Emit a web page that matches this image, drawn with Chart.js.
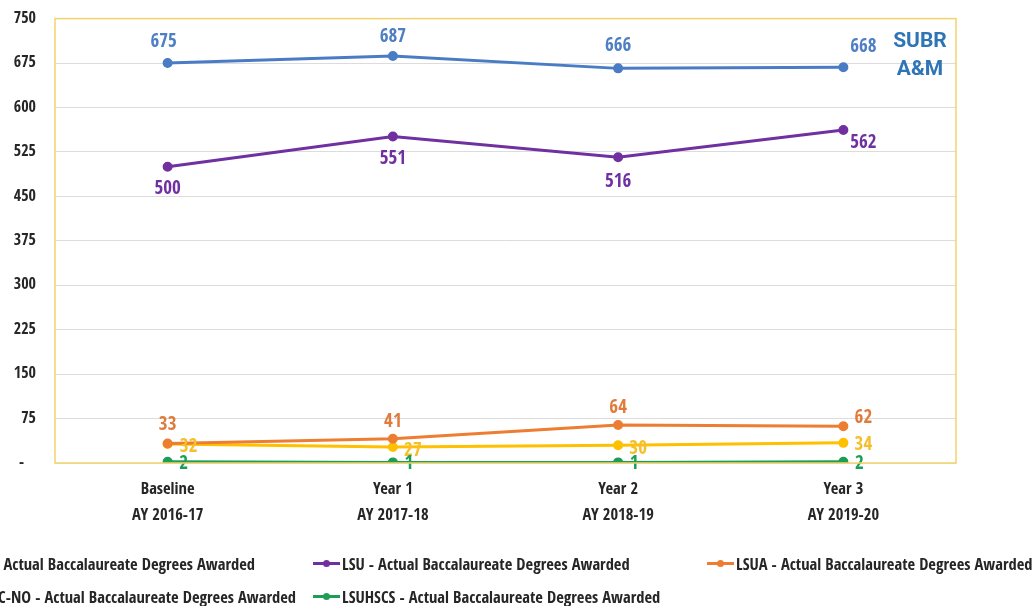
<!DOCTYPE html>
<html>
<head>
<meta charset="utf-8">
<script src="https://cdn.jsdelivr.net/npm/chart.js@4"></script>
<style>
  html, body { margin:0; padding:0; background:#fff; }
  #wrap { position:relative; width:1035px; height:606px; overflow:hidden; background:#fff; }
  #c { position:absolute; left:0; top:-10px; }
  .lg { position:absolute; white-space:nowrap; font-family:"Open Sans Condensed","Roboto Condensed",sans-serif; font-weight:bold; font-size:16.5px; color:#262626; display:flex; align-items:center; height:20px; }
  .mk { position:relative; width:27px; height:3px; margin-right:2px; flex:none; }
  .mk i { position:absolute; left:10px; top:-2px; width:7px; height:7px; border-radius:50%; }
  #subr { position:absolute; left:878px; top:26px; width:84px; text-align:center; font-family:"Roboto","Liberation Sans",sans-serif; font-weight:bold; font-size:21px; line-height:28px; color:#2e75b6; }
</style>
</head>
<body>
<div id="wrap">
  <canvas id="c" width="1035" height="616"></canvas>
  <div id="subr">SUBR<br>A&amp;M</div>
  <div id="legend"></div>
</div>
<script>
const categories = [["Baseline","AY 2016-17"],["Year 1","AY 2017-18"],["Year 2","AY 2018-19"],["Year 3","AY 2019-20"]];
const seriesNames = [
  "SUBR A&M - Actual Baccalaureate Degrees Awarded",
  "LSU - Actual Baccalaureate Degrees Awarded",
  "LSUA - Actual Baccalaureate Degrees Awarded",
  "LSUHSC-NO - Actual Baccalaureate Degrees Awarded",
  "LSUHSCS - Actual Baccalaureate Degrees Awarded"
];
const subrValues = [675, 687, 666, 668];
const lsuValues = [500, 551, 516, 562];
const lsuaValues = [33, 41, 64, 62];
const lsuhscnoValues = [32, 27, 30, 34];
const lsuhscsValues = [2, 1, 1, 2];
const yTicks = [0, 75, 150, 225, 300, 375, 450, 525, 600, 675, 750];

const colors = ["#4a7cc6", "#7030a0", "#ed7d31", "#ffc000", "#1e9e55"];
const labelColors = ["#4e7fc4", "#7030a0", "#e07b3c", "#f5c02e", "#1e9e55"];
// label offsets relative to each point [dx, dy]
const labelOffsets = [
  [[-4,-21],[0,-19],[0,-22],[20,-20]],
  [[0,22],[0,23],[0,25],[20,13]],
  [[0,-18],[0,-17],[0,-17],[20,-8]],
  [[21,3],[20,4],[20,4],[20,2]],
  [[16,2],[16,2],[16,2],[16,2]]
];

const allSeries = [subrValues, lsuValues, lsuaValues, lsuhscnoValues, lsuhscsValues];
const condensed = '"Open Sans Condensed","Roboto Condensed",sans-serif';

const labelPlugin = {
  id: 'pointLabels',
  afterDatasetsDraw(chart) {
    const ctx = chart.ctx;
    ctx.save();
    ctx.font = 'bold 19px ' + condensed;
    ctx.textAlign = 'center';
    ctx.textBaseline = 'middle';
    chart.data.datasets.forEach((ds, di) => {
      const meta = chart.getDatasetMeta(di);
      meta.data.forEach((pt, i) => {
        const off = labelOffsets[di][i];
        ctx.fillStyle = labelColors[di];
        ctx.fillText(String(ds.data[i]), pt.x + off[0], pt.y + off[1]);
      });
    });
    ctx.restore();
  }
};

const borderPlugin = {
  id: 'plotBorder',
  afterDraw(chart) {
    const a = chart.chartArea;
    const ctx = chart.ctx;
    ctx.save();
    ctx.strokeStyle = '#f2d36b';
    ctx.lineWidth = 1.5;
    ctx.strokeRect(a.left, a.top, a.right - a.left, a.bottom - a.top);
    ctx.restore();
  }
};

const datasets = allSeries.map((vals, i) => ({
  label: seriesNames[i],
  data: vals,
  borderColor: colors[i],
  backgroundColor: colors[i],
  pointBackgroundColor: colors[i],
  pointBorderColor: colors[i],
  borderWidth: 3,
  pointRadius: 3.5,
  tension: 0
}));
const tickFont = { family: condensed, weight: 'bold', size: 16 };
const xFont = { family: condensed, weight: 'bold', size: 16.5, lineHeight: 1.6 };

new Chart(document.getElementById('c'), {
  type: 'line',
  data: { labels: categories, datasets: datasets },
  options: {
    responsive: false,
    animation: false,
    devicePixelRatio: 1,
    layout: { padding: { left: 0, top: 7, right: 79, bottom: 0 } },
    plugins: { legend: { display: false }, tooltip: { enabled: false } },
    scales: {
      x: {
        offset: true,
        grid: { display: false, drawTicks: false },
        border: { display: false },
        ticks: { color: '#262626', font: xFont, padding: 13, maxRotation: 0, autoSkip: false },
        afterFit(s) { s.height = 143; }
      },
      y: {
        min: 0, max: 750,
        afterBuildTicks(s) { s.ticks = yTicks.map(v => ({ value: v })); },
        grid: { color: '#dcdcdc', lineWidth: 1, drawTicks: false },
        border: { display: false },
        ticks: {
          color: '#262626', font: tickFont, padding: 19,
          callback: v => v === 0 ? '-   ' : String(v)
        },
        afterFit(s) { s.width = 55; }
      }
    }
  },
  plugins: [labelPlugin, borderPlugin]
});
</script>
<script>
(function(){
  const lg = document.getElementById('legend');
  const items = [
    { i:0, style:'right:780px; top:553px;' },
    { i:1, style:'left:313px; top:553px;' },
    { i:2, style:'left:707px; top:553px;' },
    { i:3, style:'right:739px; top:586px;' },
    { i:4, style:'left:313px; top:586px;' }
  ];
  items.forEach(it => {
    const d = document.createElement('div');
    d.className = 'lg';
    d.setAttribute('style', it.style);
    d.innerHTML = '<span class="mk" style="background:' + colors[it.i] + '"><i style="background:' + colors[it.i] + '"></i></span>';
    d.appendChild(document.createTextNode(seriesNames[it.i]));
    lg.appendChild(d);
  });
})();
</script>
</body>
</html>
